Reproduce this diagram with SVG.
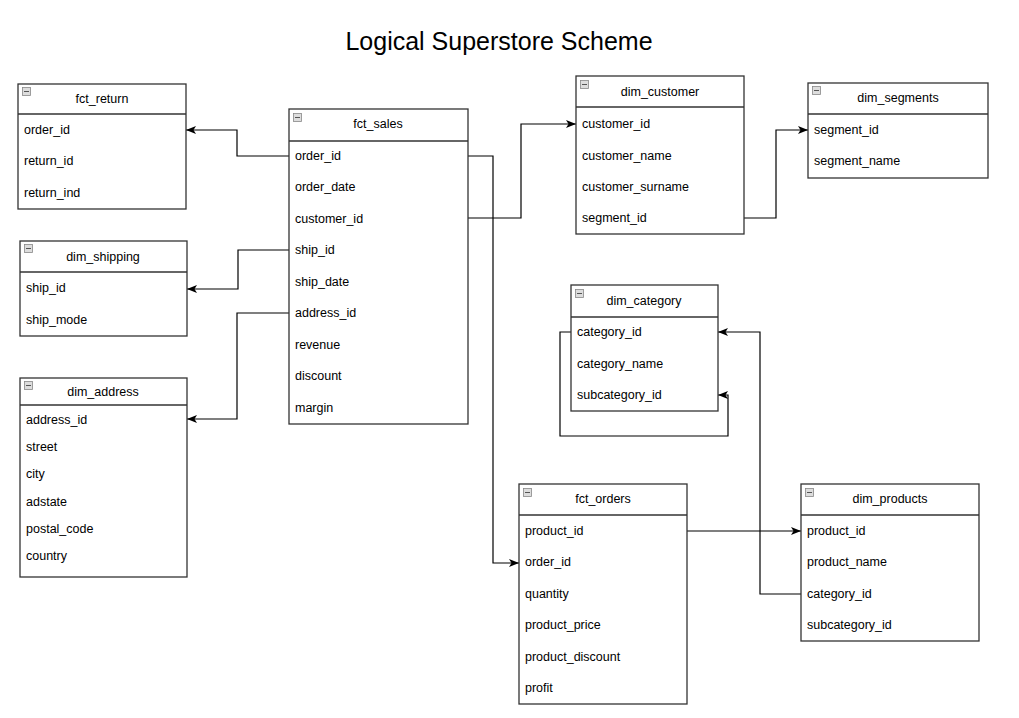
<svg xmlns="http://www.w3.org/2000/svg" width="1019" height="718" viewBox="0 0 1019 718">
<style>
.box{fill:#fff;stroke:#333;stroke-width:1.3}
.sep{stroke:#333;stroke-width:1.3}
.t{font-family:"Liberation Sans",Arial,sans-serif;font-size:12.5px;fill:#000}
.h{text-anchor:middle}
.ic{fill:#ddd;stroke:#888;stroke-width:0.8}
.ic2{stroke:#555;stroke-width:1}
.c{fill:none;stroke:#000;stroke-width:1.2}
.title{font-family:"Liberation Sans",Arial,sans-serif;font-size:25px;text-anchor:middle;fill:#000}
</style>
<defs>
<marker id="ar" viewBox="0 0 10 10" refX="10" refY="5" markerWidth="10" markerHeight="10" markerUnits="userSpaceOnUse" orient="auto">
<path d="M0,1 L10,5 L0,9 L2.5,5 Z" fill="#000"/>
</marker>
</defs>
<rect width="1019" height="718" fill="#fff"/>
<text class="title" x="499" y="50">Logical Superstore Scheme</text>

<g id="connectors">
<path class="c" d="M289,156 H237 V130 H186" marker-end="url(#ar)"/>
<path class="c" d="M289,250 H238 V289 H187" marker-end="url(#ar)"/>
<path class="c" d="M289,313 H237 V419 H187" marker-end="url(#ar)"/>
<path class="c" d="M468,156 H493 V563 H519" marker-end="url(#ar)"/>
<path class="c" d="M468,218 H521 V124 H576" marker-end="url(#ar)"/>
<path class="c" d="M744,218 H776 V130 H808" marker-end="url(#ar)"/>
<path class="c" d="M687,531 H801" marker-end="url(#ar)"/>
<path class="c" d="M801,594 H760 V332 H718" marker-end="url(#ar)"/>
<path class="c" d="M571,332 H560 V436 H728 V395 H718" marker-end="url(#ar)"/>
</g>

<g id="fct_return">
<rect class="box" x="18" y="84" width="168" height="125"/>
<line class="sep" x1="18" y1="114" x2="186" y2="114"/>
<rect class="ic" x="22.5" y="87.5" width="8" height="8"/><line class="ic2" x1="24" y1="91.5" x2="29" y2="91.5"/>
<text class="t h" x="102" y="103">fct_return</text>
<text class="t" x="24" y="134">order_id</text>
<text class="t" x="24" y="165">return_id</text>
<text class="t" x="24" y="197">return_ind</text>
</g>

<g id="dim_shipping">
<rect class="box" x="20" y="241" width="167" height="95"/>
<line class="sep" x1="20" y1="272" x2="187" y2="272"/>
<rect class="ic" x="24.5" y="244.5" width="8" height="8"/><line class="ic2" x1="26" y1="248.5" x2="31" y2="248.5"/>
<text class="t h" x="103" y="261">dim_shipping</text>
<text class="t" x="26" y="292">ship_id</text>
<text class="t" x="26" y="324">ship_mode</text>
</g>

<g id="dim_address">
<rect class="box" x="20" y="378" width="167" height="199"/>
<line class="sep" x1="20" y1="405" x2="187" y2="405"/>
<rect class="ic" x="24.5" y="381.5" width="8" height="8"/><line class="ic2" x1="26" y1="385.5" x2="31" y2="385.5"/>
<text class="t h" x="103" y="396">dim_address</text>
<text class="t" x="26" y="424">address_id</text>
<text class="t" x="26" y="451">street</text>
<text class="t" x="26" y="478">city</text>
<text class="t" x="26" y="506">adstate</text>
<text class="t" x="26" y="533">postal_code</text>
<text class="t" x="26" y="560">country</text>
</g>

<g id="fct_sales">
<rect class="box" x="289" y="109" width="179" height="315"/>
<line class="sep" x1="289" y1="141" x2="468" y2="141"/>
<rect class="ic" x="293.5" y="113.5" width="8" height="8"/><line class="ic2" x1="295" y1="117.5" x2="300" y2="117.5"/>
<text class="t h" x="378" y="128">fct_sales</text>
<text class="t" x="295" y="160">order_id</text>
<text class="t" x="295" y="191">order_date</text>
<text class="t" x="295" y="223">customer_id</text>
<text class="t" x="295" y="254">ship_id</text>
<text class="t" x="295" y="286">ship_date</text>
<text class="t" x="295" y="317">address_id</text>
<text class="t" x="295" y="349">revenue</text>
<text class="t" x="295" y="380">discount</text>
<text class="t" x="295" y="412">margin</text>
</g>

<g id="dim_customer">
<rect class="box" x="576" y="76" width="168" height="158"/>
<line class="sep" x1="576" y1="107" x2="744" y2="107"/>
<rect class="ic" x="580.5" y="80.5" width="8" height="8"/><line class="ic2" x1="582" y1="84.5" x2="587" y2="84.5"/>
<text class="t h" x="660" y="96">dim_customer</text>
<text class="t" x="582" y="128">customer_id</text>
<text class="t" x="582" y="160">customer_name</text>
<text class="t" x="582" y="191">customer_surname</text>
<text class="t" x="582" y="222">segment_id</text>
</g>

<g id="dim_segments">
<rect class="box" x="808" y="83" width="180" height="95"/>
<line class="sep" x1="808" y1="114" x2="988" y2="114"/>
<rect class="ic" x="812.5" y="86.5" width="8" height="8"/><line class="ic2" x1="814" y1="90.5" x2="819" y2="90.5"/>
<text class="t h" x="898" y="102">dim_segments</text>
<text class="t" x="814" y="134">segment_id</text>
<text class="t" x="814" y="165">segment_name</text>
</g>

<g id="dim_category">
<rect class="box" x="571" y="285" width="147" height="126"/>
<line class="sep" x1="571" y1="317" x2="718" y2="317"/>
<rect class="ic" x="575.5" y="289.5" width="8" height="8"/><line class="ic2" x1="577" y1="293.5" x2="582" y2="293.5"/>
<text class="t h" x="644" y="305">dim_category</text>
<text class="t" x="577" y="336">category_id</text>
<text class="t" x="577" y="368">category_name</text>
<text class="t" x="577" y="399">subcategory_id</text>
</g>

<g id="fct_orders">
<rect class="box" x="519" y="484" width="168" height="220"/>
<line class="sep" x1="519" y1="515" x2="687" y2="515"/>
<rect class="ic" x="523.5" y="488.5" width="8" height="8"/><line class="ic2" x1="525" y1="492.5" x2="530" y2="492.5"/>
<text class="t h" x="603" y="503">fct_orders</text>
<text class="t" x="525" y="535">product_id</text>
<text class="t" x="525" y="566">order_id</text>
<text class="t" x="525" y="598">quantity</text>
<text class="t" x="525" y="629">product_price</text>
<text class="t" x="525" y="661">product_discount</text>
<text class="t" x="525" y="692">profit</text>
</g>

<g id="dim_products">
<rect class="box" x="801" y="484" width="178" height="157"/>
<line class="sep" x1="801" y1="515" x2="979" y2="515"/>
<rect class="ic" x="805.5" y="488.5" width="8" height="8"/><line class="ic2" x1="807" y1="492.5" x2="812" y2="492.5"/>
<text class="t h" x="890" y="503">dim_products</text>
<text class="t" x="807" y="535">product_id</text>
<text class="t" x="807" y="566">product_name</text>
<text class="t" x="807" y="598">category_id</text>
<text class="t" x="807" y="629">subcategory_id</text>
</g>
</svg>
